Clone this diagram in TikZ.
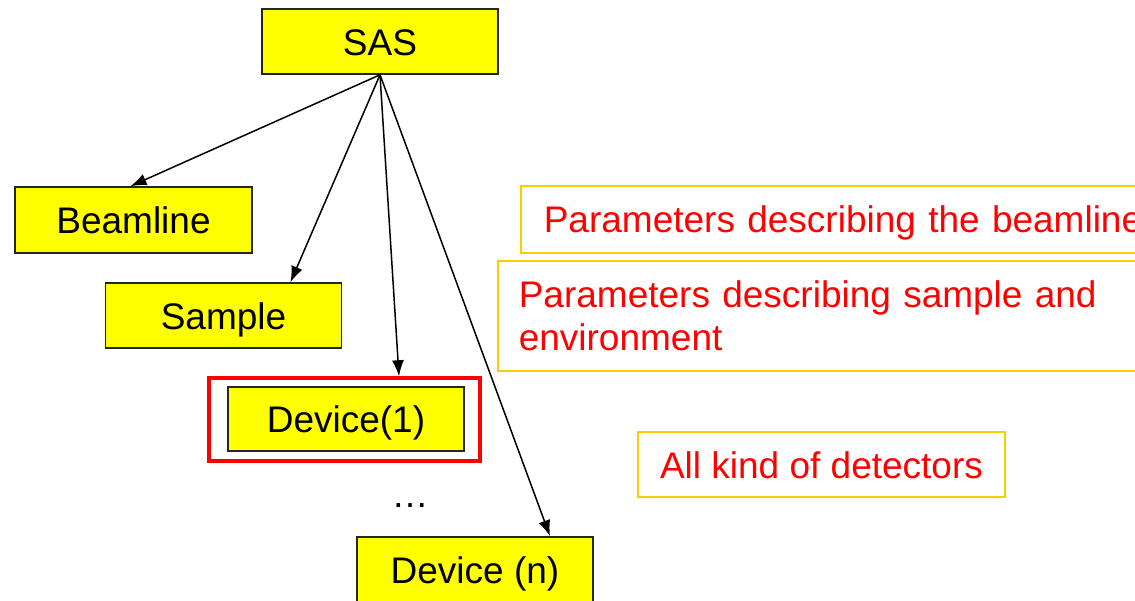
\documentclass[tikz,border=0pt]{standalone}
\usepackage{fontspec}
\setmainfont{Liberation Sans}
\usetikzlibrary{arrows.meta}
\definecolor{boxyellow}{HTML}{FFFF00}
\definecolor{notegold}{HTML}{FFCC00}
\definecolor{notered}{HTML}{FF0000}
\tikzset{
  unit/.style={draw=black!85, line width=1.6pt, fill=boxyellow, minimum width=236pt,
    minimum height=65pt, inner sep=0pt, text height=29pt, text depth=2pt,
    font=\fontsize{37}{43}\selectfont},
  frame/.style={draw=notered, line width=3.5pt, inner sep=0pt},
  note/.style={draw=notegold, line width=1.6pt, inner sep=0pt, align=left,
    text=notered, font=\fontsize{37}{43}\selectfont},
  link/.style={line width=1.5pt, -{Latex[length=16pt,width=12pt]}}
}
\begin{document}
\begin{tikzpicture}[x=1pt,y=-1pt]
  \useasboundingbox (0,0) rectangle (1135,600);
  \clip (0,0) rectangle (1135,600);

  % tree of definitions
  \node[unit] (sas) at (380,41.5) {SAS};
  \node[unit, minimum width=237pt, minimum height=66pt] (beamline) at (133.5,220) {Beamline};
  \node[unit] (sample) at (223.5,315.5) {Sample};
  \node[unit, minimum width=236pt, minimum height=64pt] (dev1) at (346,419) {Device(1)};
  \node[frame, minimum width=271pt, minimum height=83pt] (dev1frame) at (344.5,419.5) {};
  \node[font=\fontsize{37}{43}\selectfont, inner sep=0pt] (dots) at (410,506) {\ldots};
  \node[unit] (devn) at (475,569.5) {Device (n)};

  % links from the root
  \draw[link] (sas.south) -- ([xshift=-3pt]beamline.north);
  \draw[link] (sas.south) -- ([xshift=67pt]sample.north);
  \draw[link] (sas.south) -- ([xshift=54.5pt]dev1frame.north);
  \draw[link] (sas.south) -- ([xshift=75pt]devn.north);

  % annotations
  \node[note, anchor=north west, text width=604pt, inner xsep=23pt,
        minimum height=67pt, text height=29pt, text depth=2pt]
        (nbeam) at (520,185) {Parameters describing the beamline};
  \node[note, anchor=north west, text width=633pt, inner xsep=21pt,
        minimum height=110pt] (nsample) at (497,260)
        {Parameters describing sample and\\environment};
  \node[note, minimum width=367pt, minimum height=65pt, text height=29pt, text depth=2pt,
        align=center] (ndet) at (821.5,464.5) {All kind of detectors};
\end{tikzpicture}
\end{document}
